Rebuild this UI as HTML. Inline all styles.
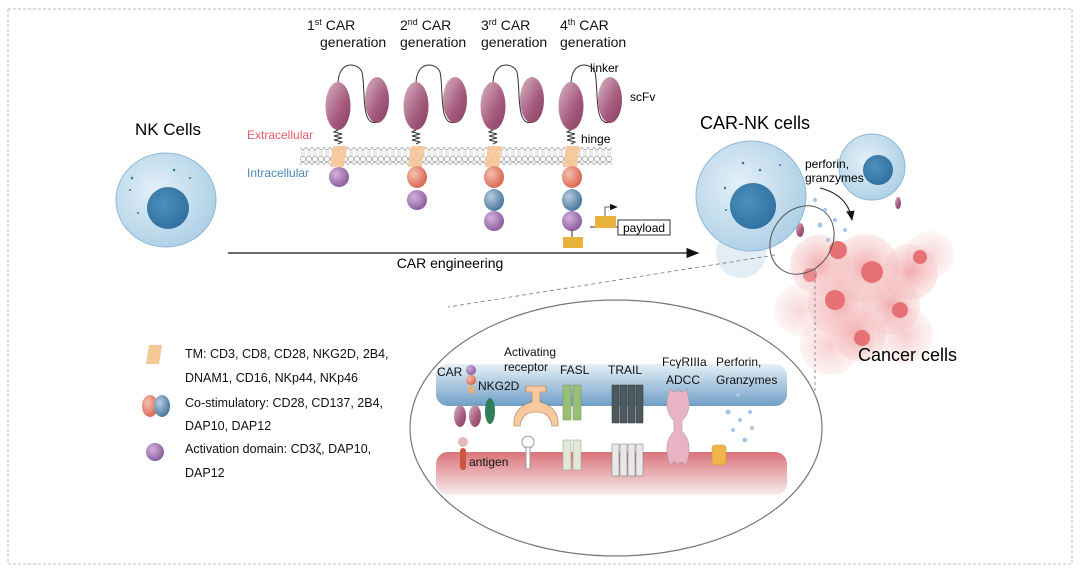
<!DOCTYPE html>
<html><head><meta charset="utf-8"><style>
html,body{margin:0;padding:0;background:#fff;}
svg{display:block;font-family:"Liberation Sans",Arial,sans-serif;}
</style></head><body>
<svg width="1080" height="575" viewBox="0 0 1080 575" xmlns="http://www.w3.org/2000/svg">
<defs>
<radialGradient id="cell" cx="0.4" cy="0.4" r="0.7"><stop offset="0" stop-color="#e4f0f8"/><stop offset="1" stop-color="#a9cde4"/></radialGradient>
<radialGradient id="nuc" cx="0.4" cy="0.4" r="0.7"><stop offset="0" stop-color="#4f8fbd"/><stop offset="1" stop-color="#2c6e9e"/></radialGradient>
<linearGradient id="scfv" x1="0" y1="0" x2="1" y2="1"><stop offset="0" stop-color="#d9b3c4"/><stop offset="0.6" stop-color="#a45a7c"/><stop offset="1" stop-color="#8a3f63"/></linearGradient>
<radialGradient id="pur" cx="0.35" cy="0.35" r="0.7"><stop offset="0" stop-color="#d2b3dc"/><stop offset="1" stop-color="#8a5a9e"/></radialGradient>
<radialGradient id="red" cx="0.35" cy="0.35" r="0.7"><stop offset="0" stop-color="#f6c0b0"/><stop offset="1" stop-color="#d9634e"/></radialGradient>
<radialGradient id="blu" cx="0.35" cy="0.35" r="0.7"><stop offset="0" stop-color="#b6cde0"/><stop offset="1" stop-color="#47739b"/></radialGradient>
<linearGradient id="band1" x1="0" y1="0" x2="0" y2="1"><stop offset="0" stop-color="#e6f0f7"/><stop offset="1" stop-color="#6f9fc6"/></linearGradient>
<linearGradient id="band2" x1="0" y1="0" x2="0" y2="1"><stop offset="0" stop-color="#d9737a"/><stop offset="1" stop-color="#f8eeee"/></linearGradient>
<radialGradient id="canc" cx="0.5" cy="0.5" r="0.5"><stop offset="0" stop-color="#ec8f92" stop-opacity="0.75"/><stop offset="1" stop-color="#f6c6c6" stop-opacity="0.35"/></radialGradient>
<pattern id="mem" width="6" height="18" patternUnits="userSpaceOnUse"><circle cx="3" cy="3" r="2.6" fill="#fff" stroke="#999" stroke-width="0.7"/><circle cx="3" cy="15" r="2.6" fill="#fff" stroke="#999" stroke-width="0.7"/><line x1="2" y1="6" x2="2" y2="12" stroke="#aaa" stroke-width="0.5"/><line x1="4" y1="6" x2="4" y2="12" stroke="#aaa" stroke-width="0.5"/></pattern>
<marker id="ah" markerWidth="10" markerHeight="8" refX="9" refY="4" orient="auto"><path d="M0,0 L10,4 L0,8 z" fill="#111"/></marker>
</defs>
<rect x="8" y="9" width="1064" height="555" fill="none" stroke="#bbb" stroke-dasharray="3,2" stroke-width="1"/>

<g font-size="14" fill="#111">
<text x="307" y="30">1<tspan font-size="9" dy="-5">st</tspan><tspan dy="5"> CAR</tspan></text>
<text x="320" y="47">generation</text>
<text x="400" y="30">2<tspan font-size="9" dy="-5">nd</tspan><tspan dy="5"> CAR</tspan></text>
<text x="400" y="47">generation</text>
<text x="481" y="30">3<tspan font-size="9" dy="-5">rd</tspan><tspan dy="5"> CAR</tspan></text>
<text x="481" y="47">generation</text>
<text x="560" y="30">4<tspan font-size="9" dy="-5">th</tspan><tspan dy="5"> CAR</tspan></text>
<text x="560" y="47">generation</text>
</g>

<rect x="300" y="147" width="312" height="18" fill="url(#mem)"/>
<text x="247" y="139" font-size="12" fill="#e45b6b">Extracellular</text>
<text x="247" y="177" font-size="12" fill="#4b86b8">Intracellular</text>

<g id="car1">
<path d="M338,84 C338,60 358,62 362,72 C366,90 360,128 378,122" fill="none" stroke="#333" stroke-width="1"/>
<ellipse cx="338" cy="106" rx="12.5" ry="24" fill="url(#scfv)"/>
<ellipse cx="377" cy="100" rx="12" ry="23" fill="url(#scfv)"/>
<path d="M338,130 l-4,2 l8,2 l-8,2 l8,2 l-8,2 l8,2 l-4,2" fill="none" stroke="#333" stroke-width="1"/>
<polygon points="333,146 347,146 344,167 330,167" fill="#f6c797" opacity="0.9"/>
</g>
<circle cx="339" cy="177" r="10" fill="url(#pur)"/>
<use href="#car1" transform="translate(78,0)"/>
<ellipse cx="417" cy="177" rx="10" ry="11" fill="url(#red)"/>
<circle cx="417" cy="200" r="10" fill="url(#pur)"/>
<use href="#car1" transform="translate(155,0)"/>
<ellipse cx="494" cy="177" rx="10" ry="11" fill="url(#red)"/>
<ellipse cx="494" cy="200" rx="10" ry="11" fill="url(#blu)"/>
<circle cx="494" cy="221" r="10" fill="url(#pur)"/>
<use href="#car1" transform="translate(233,0)"/>
<ellipse cx="572" cy="177" rx="10" ry="11" fill="url(#red)"/>
<ellipse cx="572" cy="200" rx="10" ry="11" fill="url(#blu)"/>
<circle cx="572" cy="221" r="10" fill="url(#pur)"/>
<line x1="572" y1="230" x2="572" y2="237" stroke="#333"/>
<rect x="563" y="237" width="20" height="11" fill="#e9b23a"/>
<line x1="590" y1="227" x2="620" y2="227" stroke="#333"/>
<rect x="595" y="216" width="21" height="12" fill="#e9b23a"/>
<path d="M605,216 V207 H617" fill="none" stroke="#333" marker-end="url(#ah)" stroke-width="0.8"/>
<rect x="618" y="220" width="52" height="15" fill="#fff" stroke="#333"/>
<text x="623" y="232" font-size="12">payload</text>
<text x="590" y="72" font-size="12">linker</text>
<text x="630" y="101" font-size="12">scFv</text>
<text x="581" y="143" font-size="12">hinge</text>

<text x="168" y="135" font-size="17" text-anchor="middle">NK Cells</text>
<ellipse cx="166" cy="200" rx="50" ry="47" fill="url(#cell)" stroke="#8fbad8" stroke-width="1"/>
<circle cx="168" cy="208" r="21" fill="url(#nuc)"/>
<g fill="#3b77a6"><circle cx="132" cy="178" r="1.3"/><circle cx="159" cy="195" r="1.3"/><circle cx="174" cy="170" r="1.3"/><circle cx="130" cy="190" r="1"/><circle cx="138" cy="213" r="1"/><circle cx="190" cy="178" r="1"/></g>

<line x1="228" y1="253" x2="698" y2="253" stroke="#111" stroke-width="1.3" marker-end="url(#ah)"/>
<text x="450" y="268" font-size="14" text-anchor="middle">CAR engineering</text>

<text x="700" y="129" font-size="18">CAR-NK cells</text>
<circle cx="741" cy="253" r="25" fill="#dbe9f4" opacity="0.8"/>
<g>
<circle cx="800" cy="310" r="26" fill="url(#canc)" opacity="0.5"/>
<circle cx="930" cy="255" r="24" fill="url(#canc)" opacity="0.5"/>
<circle cx="830" cy="345" r="30" fill="url(#canc)" opacity="0.6"/>
<circle cx="905" cy="335" r="28" fill="url(#canc)" opacity="0.6"/>
<circle cx="820" cy="265" r="30" fill="url(#canc)"/>
<circle cx="865" cy="268" r="34" fill="url(#canc)"/>
<circle cx="910" cy="272" r="28" fill="url(#canc)"/>
<circle cx="840" cy="305" r="32" fill="url(#canc)"/>
<circle cx="890" cy="305" r="30" fill="url(#canc)"/>
<circle cx="860" cy="335" r="26" fill="url(#canc)"/>
<circle cx="838" cy="250" r="9" fill="#e77276"/><circle cx="872" cy="272" r="11" fill="#e77276"/><circle cx="835" cy="300" r="10" fill="#e77276"/><circle cx="900" cy="310" r="8" fill="#e77276"/><circle cx="920" cy="257" r="7" fill="#e77276"/><circle cx="862" cy="338" r="8" fill="#e77276"/><circle cx="810" cy="275" r="7" fill="#ea8b8e"/>
</g>
<circle cx="751" cy="196" r="55" fill="url(#cell)" stroke="#8fbad8"/>
<circle cx="753" cy="206" r="23" fill="url(#nuc)"/>
<circle cx="872" cy="167" r="33" fill="url(#cell)" stroke="#8fbad8"/>
<circle cx="878" cy="170" r="15" fill="url(#nuc)"/>
<g fill="#3b77a6"><circle cx="743" cy="163" r="1.3"/><circle cx="760" cy="170" r="1.3"/><circle cx="725" cy="188" r="1.2"/><circle cx="726" cy="210" r="1"/><circle cx="780" cy="165" r="1"/></g>
<ellipse cx="802" cy="240" rx="30" ry="36" transform="rotate(35 802 240)" fill="none" stroke="#555" stroke-width="1"/>
<g fill="#a9c5e2"><circle cx="815" cy="200" r="2"/><circle cx="825" cy="210" r="2"/><circle cx="820" cy="225" r="2.5"/><circle cx="835" cy="220" r="2"/><circle cx="845" cy="230" r="2"/><circle cx="828" cy="240" r="2"/><circle cx="848" cy="212" r="2"/></g>
<ellipse cx="800" cy="230" rx="4" ry="7" fill="url(#scfv)"/><ellipse cx="898" cy="203" rx="3" ry="6" fill="url(#scfv)"/>
<text x="805" y="168" font-size="12">perforin,</text>
<text x="805" y="182" font-size="12">granzymes</text>
<path d="M820,188 Q848,195 852,220" fill="none" stroke="#111" stroke-width="1" marker-end="url(#ah)"/>
<text x="858" y="361" font-size="18">Cancer cells</text>

<line x1="775" y1="255" x2="448" y2="307" stroke="#777" stroke-dasharray="4,3" stroke-width="0.8"/>
<line x1="815" y1="268" x2="815" y2="420" stroke="#777" stroke-dasharray="3,3" stroke-width="0.8"/>

<ellipse cx="616" cy="428" rx="206" ry="128" fill="#fff" stroke="#777" stroke-width="1.2"/>
<rect x="436" y="364" width="351" height="42" rx="12" fill="url(#band1)"/>
<rect x="436" y="452" width="351" height="43" rx="12" fill="url(#band2)"/>
<g font-size="12" fill="#111">
<text x="437" y="376">CAR</text>
<text x="478" y="390">NKG2D</text>
<text x="504" y="356">Activating</text>
<text x="504" y="371">receptor</text>
<text x="560" y="374">FASL</text>
<text x="608" y="374">TRAIL</text>
<text x="662" y="366">FcγRIIIa</text>
<text x="666" y="384">ADCC</text>
<text x="716" y="366">Perforin,</text>
<text x="716" y="384">Granzymes</text>
<text x="469" y="466">antigen</text>
</g>
<circle cx="471" cy="370" r="5" fill="url(#pur)"/><circle cx="471" cy="380" r="5" fill="url(#red)"/><rect x="468" y="386" width="6" height="7" fill="#e9b07a"/>
<ellipse cx="460" cy="416" rx="6" ry="11" fill="url(#scfv)"/><ellipse cx="475" cy="416" rx="6" ry="11" fill="url(#scfv)"/>
<ellipse cx="490" cy="411" rx="5" ry="13" fill="#2f7e5a"/>
<circle cx="463" cy="442" r="5" fill="#e6b9b9"/><rect x="460" y="448" width="6" height="22" rx="3" fill="#d0553e"/>
<path d="M526,386 h20 v6 h-6 v10 q20,6 18,24 h-6 q-2,-14 -16,-14 q-14,0 -16,14 h-6 q-2,-18 18,-24 v-10 h-6 z" fill="#f6c9a0" stroke="#b07a4a" stroke-width="0.6"/>
<circle cx="528" cy="442" r="6" fill="#fff" stroke="#999"/><rect x="526" y="447" width="4" height="22" fill="#fff" stroke="#999"/>
<g fill="#9cbf77" stroke="#6d8f53" stroke-width="0.5"><rect x="563" y="385" width="8" height="35"/><rect x="573" y="385" width="8" height="35"/></g>
<g fill="#dfe9d5" stroke="#999" stroke-width="0.5"><rect x="563" y="440" width="8" height="30"/><rect x="573" y="440" width="8" height="30"/></g>
<g fill="#4d5960" stroke="#333" stroke-width="0.5"><rect x="612" y="385" width="7" height="38"/><rect x="620" y="385" width="7" height="38"/><rect x="628" y="385" width="7" height="38"/><rect x="636" y="385" width="7" height="38"/></g>
<g fill="#e8e8e8" stroke="#777" stroke-width="0.5"><rect x="612" y="444" width="7" height="32"/><rect x="620" y="444" width="7" height="32"/><rect x="628" y="444" width="7" height="32"/><rect x="636" y="444" width="7" height="32"/></g>
<path d="M670,389 q6,6 8,0 q2,6 8,0 q8,20 -4,32 v10 q12,12 4,34 q-6,-6 -8,0 q-2,-6 -8,0 q-8,-22 4,-34 v-10 q-12,-12 -4,-32z" fill="#e9b3c4" stroke="#999" stroke-width="0.5"/>
<g fill="#a9c5e2"><circle cx="738" cy="395" r="2"/><circle cx="728" cy="412" r="2.5"/><circle cx="740" cy="420" r="2"/><circle cx="750" cy="412" r="2"/><circle cx="733" cy="430" r="2"/><circle cx="745" cy="440" r="2.5"/><circle cx="752" cy="428" r="2"/></g>
<rect x="712" y="445" width="14" height="20" rx="3" fill="#f0b54a" stroke="#d09020" stroke-width="0.5"/>

<polygon points="149,345 162,345 159,364 146,364" fill="#f6c797"/>
<ellipse cx="150" cy="406" rx="8" ry="11" fill="url(#red)"/><ellipse cx="162" cy="406" rx="8" ry="11" fill="url(#blu)"/>
<circle cx="155" cy="452" r="9" fill="url(#pur)"/>
<g font-size="12.5" fill="#111">
<text x="185" y="358">TM: CD3, CD8, CD28, NKG2D, 2B4,</text>
<text x="185" y="382">DNAM1, CD16, NKp44, NKp46</text>
<text x="185" y="407">Co-stimulatory: CD28, CD137, 2B4,</text>
<text x="185" y="430">DAP10, DAP12</text>
<text x="185" y="453">Activation domain: CD3ζ, DAP10,</text>
<text x="185" y="477">DAP12</text>
</g>
</svg>
</body></html>
